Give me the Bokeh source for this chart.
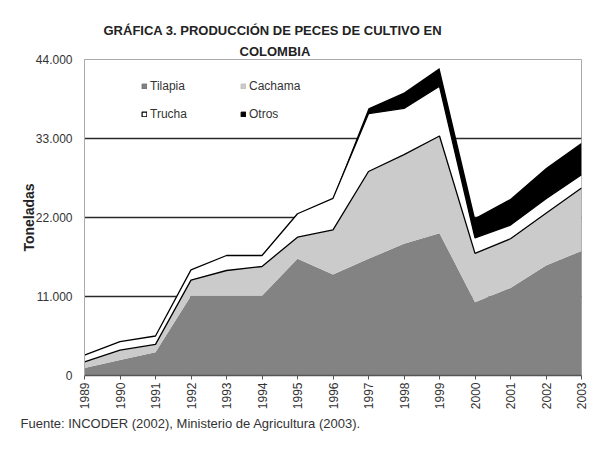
import numpy as np
from math import pi
from bokeh.plotting import figure
from bokeh.models import (ColumnDataSource, Range1d, FixedTicker, Legend, LegendItem, Title)
from bokeh.embed import file_html
from bokeh.resources import INLINE

# ---------------- data ----------------
years = [1989, 1990, 1991, 1992, 1993, 1994, 1995, 1996, 1997, 1998, 1999, 2000, 2001, 2002, 2003]
tilapia = [1050, 2150, 3250, 11100, 11100, 11100, 16250, 14070, 16250, 18340, 19820, 10210, 12200, 15320, 17350]
cachama = [850, 1380, 1090, 2180, 3520, 4080, 3010, 6200, 12150, 12410, 13530, 6790, 6840, 7280, 8750]
trucha = [930, 1200, 1160, 1420, 2090, 1530, 3260, 4400, 8050, 6450, 6920, 2160, 1910, 2000, 1850]
otros = [0, 0, 0, 0, 0, 0, 0, 0, 750, 2200, 2560, 2780, 3650, 4300, 4470]

series_names = ["Tilapia", "Cachama", "Trucha", "Otros"]
series_fill = ["#838383", "#cbcbcb", "#ffffff", "#000000"]
series_line = ["#6e6e6e", "#bdbdbd", "#000000", "#000000"]

y_ticks = [0, 11000, 22000, 33000, 44000]
y_tick_labels = ["0", "11.000", "22.000", "33.000", "44.000"]
grid_ticks = [11000, 22000, 33000]

title_lines = ["GRÁFICA 3. PRODUCCIÓN DE PECES DE CULTIVO EN", "COLOMBIA"]
y_label = "Toneladas"
source_note = "Fuente:  INCODER (2002), Ministerio de Agricultura (2003)."

FONT = "Liberation Sans"

# ---------------- sources ----------------
src = ColumnDataSource(dict(year=years, tilapia=tilapia, cachama=cachama,
                            trucha=trucha, otros=otros))
cum_cachama = (np.array(tilapia) + np.array(cachama)).tolist()
cum_trucha = (np.array(cum_cachama) + np.array(trucha)).tolist()
line_src = ColumnDataSource(dict(year=years, c1=cum_cachama, c2=cum_trucha))

# ---------------- figure ----------------
W, H = 589, 435
L, R, T, B = 84, 8, 59, 60
p = figure(width=W, height=H, output_backend="svg", toolbar_location=None,
           x_range=Range1d(years[0], years[-1]), y_range=Range1d(y_ticks[0], y_ticks[-1]),
           min_border_left=L, min_border_right=R, min_border_top=T, min_border_bottom=B)
p.background_fill_color = "white"
p.border_fill_color = "white"
p.outline_line_color = "#aaaaaa"
p.outline_line_width = 1

p.varea_stack(stackers=["tilapia", "cachama", "trucha", "otros"], x="year",
              color=series_fill, source=src)
p.line("year", "c1", source=line_src, line_color="black", line_width=1.3)
p.line("year", "c2", source=line_src, line_color="black", line_width=1.3)

# grid
p.xgrid.visible = False
p.ygrid.ticker = FixedTicker(ticks=grid_ticks)
p.ygrid.grid_line_color = "#2a2a2a"
p.ygrid.grid_line_width = 1.3

# x axis
p.xaxis.ticker = FixedTicker(ticks=years)
p.xaxis.major_label_orientation = pi / 2
p.xaxis.major_label_text_font = FONT
p.xaxis.major_label_text_font_size = "12px"
p.xaxis.major_label_text_color = "#333333"
p.xaxis.axis_line_color = "#555555"
p.xaxis.axis_line_width = 1.5
p.xaxis.major_tick_line_color = "#555555"
p.xaxis.major_tick_out = 4
p.xaxis.major_tick_in = 0
p.xaxis.minor_tick_line_color = None
p.xaxis.major_label_standoff = 3

# y axis
p.yaxis.ticker = FixedTicker(ticks=y_ticks)
p.yaxis.major_label_overrides = {t: l for t, l in zip(y_ticks, y_tick_labels)}
p.yaxis.major_label_text_font = FONT
p.yaxis.major_label_text_font_size = "12px"
p.yaxis.major_label_text_color = "#333333"
p.yaxis.axis_line_color = "#aaaaaa"
p.yaxis.major_tick_line_color = None
p.yaxis.major_tick_out = 0
p.yaxis.major_tick_in = 0
p.yaxis.minor_tick_line_color = None
p.yaxis.major_label_standoff = 12
p.yaxis.axis_label = y_label
p.yaxis.axis_label_text_font = FONT
p.yaxis.axis_label_text_font_size = "14px"
p.yaxis.axis_label_text_font_style = "bold"
p.yaxis.axis_label_text_color = "#222222"
p.yaxis.axis_label_standoff = -4

# legend (NaN quads carry the swatch styling)
items = []
for name, fc, lc in zip(series_names, series_fill, series_line):
    r = p.quad(left=[np.nan], right=[np.nan], top=[np.nan], bottom=[np.nan],
               fill_color=fc, line_color=lc, line_width=1.2 if fc == "#ffffff" else 1)
    items.append(LegendItem(label=name, renderers=[r]))
legend = Legend(items=items, location=(57, 254), orientation="horizontal", ncols=2,
                border_line_color=None, background_fill_alpha=0,
                label_text_font=FONT, label_text_font_size="12px", label_text_color="#333333",
                glyph_width=6, glyph_height=6, label_standoff=3, label_width=76,
                label_height=14, padding=0, margin=0, spacing=14)
p.add_layout(legend, "center")

# titles (added nearest-first) and footer
def make_title(text, size, bold, offset, standoff, color="#222222"):
    return Title(text=text, align="left", offset=offset, standoff=standoff,
                 vertical_align="middle", text_font=FONT, text_font_size=size,
                 text_font_style="bold" if bold else "normal", text_color=color)

p.add_layout(make_title(title_lines[1], "13px", True, 155, 0), "above")
p.add_layout(make_title(title_lines[0], "13px", True, 19, 7), "above")
p.add_layout(make_title(source_note, "13px", False, -64, 4, color="#333333"), "below")

open("out.html", "w").write(file_html(p, INLINE))
